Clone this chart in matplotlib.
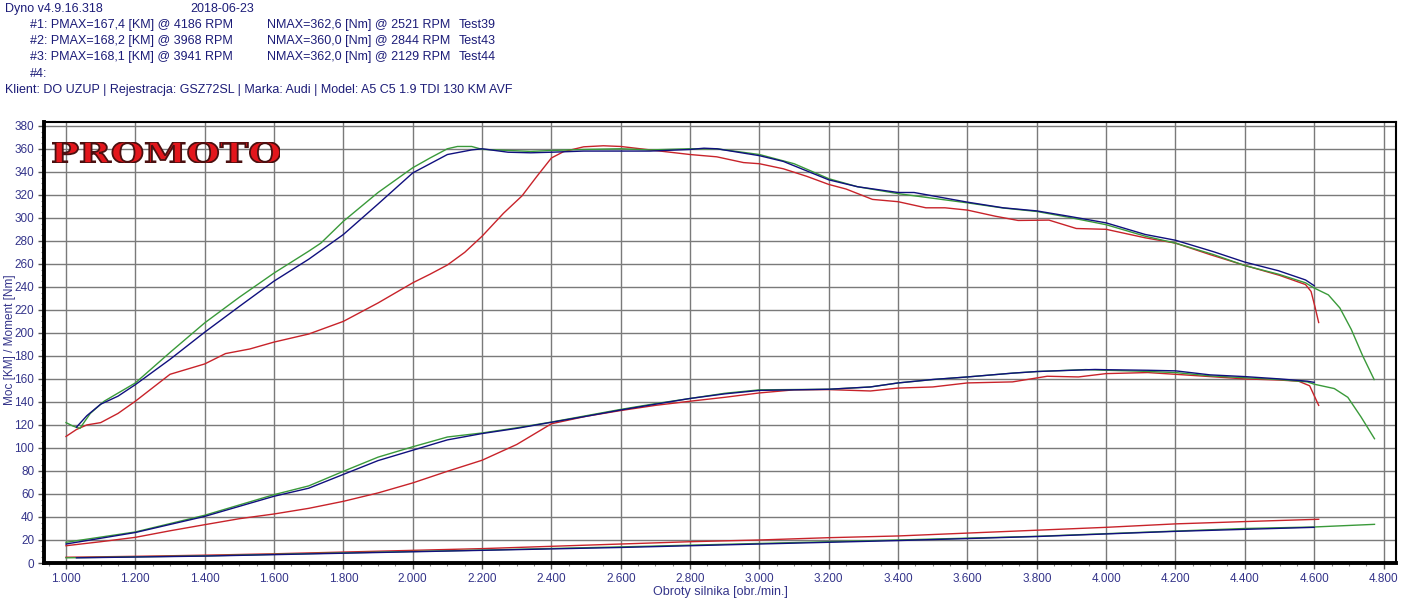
import matplotlib
matplotlib.use("Agg")
import matplotlib.pyplot as plt
from matplotlib.ticker import MultipleLocator, FuncFormatter
from matplotlib.textpath import TextPath
from matplotlib.patches import PathPatch
from matplotlib.font_manager import FontProperties

plt.rcParams['font.family'] = ['Liberation Sans', 'DejaVu Sans']

# ---------------- data ----------------
# Run #1 (Test39) - red
red_t_rpm = [1000, 1030, 1060, 1100, 1150, 1200, 1300, 1400, 1460, 1530, 1600, 1700, 1800, 1900, 2000,
             2050, 2100, 2150, 2200, 2262, 2315, 2358, 2400, 2435, 2493, 2550, 2600, 2685, 2800, 2877,
             2954, 3000, 3069, 3137, 3200, 3250, 3326, 3400, 3480, 3535, 3600, 3680, 3746, 3835, 3914,
             4000, 4113, 4200, 4300, 4400, 4500, 4575, 4591, 4602, 4613]
red_torque = [110, 116, 120, 122, 130, 140.6, 164, 173, 182, 186, 192, 199, 210, 226, 243.5,
              251, 259, 270, 284, 304, 319, 336, 352, 357.5, 361.7, 362.6, 362, 359, 355, 353,
              348, 347, 342.6, 336, 329, 325, 316, 314, 308.7, 308.7, 306.7, 301.4, 297.7, 298, 290.7,
              290, 282.6, 278, 268, 258.6, 250, 242, 236, 223, 209]
red_p_rpm = [1000, 1100, 1200, 1300, 1400, 1500, 1600, 1700, 1800, 1900, 2000, 2100, 2200, 2300, 2400,
             2500, 2600, 2700, 2800, 2900, 3000, 3100, 3200, 3320, 3400, 3500, 3600, 3730, 3830, 3920,
             4000, 4120, 4200, 4300, 4400, 4500, 4555, 4587, 4613]
red_power = [15, 18.5, 22.3, 28, 33.3, 38.5, 42.6, 47.5, 53.6, 60.9, 69.6, 79.7, 89.3, 103, 121,
             127.5, 132.5, 137, 140.6, 144, 147.8, 150.5, 150.7, 149.5, 152, 153, 156.5, 157.4, 162.3, 161.7,
             164.6, 165.5, 164, 162, 160, 159, 158, 154, 137]
red_l_rpm = [1000, 1200, 1400, 1600, 1800, 2000, 2200, 2400, 2600, 2800, 3000, 3200, 3400, 3600, 3800,
             4000, 4200, 4400, 4613]
red_loss = [5, 5.8, 6.8, 8, 9.5, 11, 12.5, 14.5, 16.5, 18.5, 20, 22, 23.5, 26, 28.5, 31, 34, 36, 38]

# Run #2 (Test43) - blue
blue_t_rpm = [1030, 1060, 1100, 1150, 1200, 1300, 1400, 1500, 1600, 1700, 1800, 1900, 2000, 2100, 2170,
              2200, 2275, 2340, 2400, 2493, 2600, 2685, 2800, 2840, 2877, 3000, 3069, 3200, 3283, 3400,
              3446, 3600, 3703, 3800, 3891, 4000, 4113, 4200, 4310, 4400, 4497, 4575, 4600]
blue_torque = [118, 128, 138, 145, 155, 177, 200.6, 223, 245, 264, 285.5, 312, 339, 355, 359,
               360, 357, 356.5, 357, 358, 358, 358, 359.4, 360.5, 360, 354, 349, 333, 327, 322,
               322, 313.6, 308.7, 306, 301.4, 295.6, 285.5, 280.5, 270.5, 261.5, 254, 246, 241]
blue_p_rpm = [1000, 1200, 1400, 1600, 1700, 1800, 1900, 2000, 2100, 2200, 2300, 2400, 2500, 2600, 2700,
              2800, 2900, 3000, 3200, 3320, 3400, 3500, 3600, 3730, 3800, 3968, 4000, 4120, 4200, 4300,
              4400, 4500, 4580, 4600]
blue_power = [16.5, 26.5, 40.5, 58, 65, 77, 89, 98, 107, 112.5, 117, 122.3, 127.5, 133, 138,
              143, 147, 150, 151, 153, 156.5, 159.5, 161.7, 165, 166.4, 168.2, 168, 167.5, 167, 163.5,
              162, 160, 158, 157]
blue_l_rpm = [1030, 1400, 1800, 2200, 2600, 3000, 3400, 3800, 4200, 4600]
blue_loss = [4.5, 6, 8.5, 11, 13.5, 16.5, 19.5, 23, 27.5, 31]

# Run #3 (Test44) - green
green_t_rpm = [1000, 1020, 1040, 1070, 1110, 1200, 1300, 1400, 1500, 1600, 1700, 1735, 1800, 1900, 2000,
               2050, 2100, 2129, 2170, 2200, 2340, 2400, 2493, 2600, 2685, 2800, 2877, 3000, 3100, 3200,
               3283, 3400, 3600, 3703, 3800, 3891, 4000, 4113, 4200, 4310, 4400, 4497, 4575, 4600, 4641,
               4674, 4707, 4740, 4773]
green_torque = [122, 119, 117, 130, 140.6, 156.5, 183, 208.7, 231, 252, 271, 278, 297, 322, 343.5,
                352, 360, 362, 362, 359.5, 357.7, 358.5, 359.4, 360, 359, 360, 360, 355, 347, 334,
                327, 321, 313, 308.5, 305.5, 300.5, 294, 284, 278, 268, 258.5, 251, 243.5, 239, 233,
                221.7, 203, 180, 159.4]
green_p_rpm = [1000, 1200, 1400, 1600, 1700, 1800, 1900, 2000, 2100, 2200, 2300, 2400, 2500, 2600, 2700,
               2800, 2900, 3000, 3200, 3320, 3400, 3500, 3600, 3730, 3800, 3941, 4000, 4120, 4200, 4300,
               4400, 4500, 4580, 4600, 4658, 4697, 4735, 4774]
green_power = [18, 27, 41.5, 59.4, 67, 79.7, 92, 101, 109.5, 113, 117.5, 122.5, 128, 133.5, 138.5,
               143, 147.5, 150.5, 151, 153, 156.5, 159.4, 161.7, 165, 166.4, 168.1, 167.5, 166.5, 165.5, 162.6,
               161, 159.4, 157.4, 155.4, 151.6, 144, 127, 108]
green_l_rpm = [1000, 1400, 1800, 2200, 2600, 3000, 3400, 3800, 4000, 4400, 4600, 4774]
green_loss = [4.5, 6.2, 8.8, 11.2, 14, 17, 20, 23.2, 25.5, 30, 31.3, 33.6]

x_ticks = list(range(1000, 4801, 200))
y_ticks = list(range(0, 381, 20))

header_lines = [
    "#1: PMAX=167,4 [KM] @ 4186 RPM",
    "#2: PMAX=168,2 [KM] @ 3968 RPM",
    "#3: PMAX=168,1 [KM] @ 3941 RPM",
    "#4:",
]
nmax_lines = [
    "NMAX=362,6 [Nm] @ 2521 RPM",
    "NMAX=360,0 [Nm] @ 2844 RPM",
    "NMAX=362,0 [Nm] @ 2129 RPM",
]
test_names = ["Test39", "Test43", "Test44"]

# ---------------- figure ----------------
W, H = 1424, 612
fig = plt.figure(figsize=(W / 100, H / 100), dpi=100)
fig.patch.set_facecolor("white")

def fx(px):
    return px / W

def fy(py):
    return 1 - py / H

ax = fig.add_axes([fx(44), fy(563), fx(1396) - fx(44), fy(121.5) - fy(563)])

RED = "#c8232a"
BLUE = "#10107e"
GREEN = "#3a9a3a"
lw = 1.0

ax.plot(red_t_rpm, red_torque, color=RED, lw=lw, zorder=3)
ax.plot(red_p_rpm, red_power, color=RED, lw=lw, zorder=3)
ax.plot(red_l_rpm, red_loss, color=RED, lw=lw, zorder=3)
ax.plot(green_t_rpm, green_torque, color=GREEN, lw=lw, zorder=4)
ax.plot(green_p_rpm, green_power, color=GREEN, lw=lw, zorder=4)
ax.plot(green_l_rpm, green_loss, color=GREEN, lw=lw, zorder=4)
ax.plot(blue_t_rpm, blue_torque, color=BLUE, lw=lw, zorder=5)
ax.plot(blue_p_rpm, blue_power, color=BLUE, lw=lw, zorder=5)
ax.plot(blue_l_rpm, blue_loss, color=BLUE, lw=lw, zorder=5)

ax.set_xlim(936.5, 4836)
ax.set_ylim(0, 383.7)
ax.set_xticks(x_ticks)
ax.set_yticks(y_ticks)
ax.xaxis.set_major_formatter(FuncFormatter(lambda v, p: f"{int(v) // 1000}.{int(v) % 1000:03d}"))
ax.xaxis.set_minor_locator(MultipleLocator(50))
ax.yaxis.set_minor_locator(MultipleLocator(5))

TICKC = "#34348a"
ax.tick_params(axis="both", which="major", labelsize=8.5, labelcolor=TICKC, color="#555555",
               length=4, width=1, direction="out", pad=3)
ax.tick_params(axis="both", which="minor", color="#888888", length=2, width=0.8, direction="out")
ax.grid(True, which="major", color="#7a7a7a", lw=1.0, zorder=1)
ax.set_axisbelow(True)

for side in ["left", "bottom"]:
    ax.spines[side].set_linewidth(2.8)
for side in ["top", "right"]:
    ax.spines[side].set_linewidth(1.5)
for s in ax.spines.values():
    s.set_color("black")

ax.set_xlabel("Obroty silnika [obr./min.]", fontsize=9, color=TICKC, labelpad=1)
fig.text(fx(10), fy(340), "Moc [KM] / Moment [Nm]", fontsize=8.5, color=TICKC,
         rotation=90, ha="center", va="center")

# ---------------- header ----------------
HC = "#1c1c78"
hfs = 9
fig.text(fx(5), fy(9), "Dyno v4.9.16.318", fontsize=hfs, color=HC, va="center")
fig.text(fx(190), fy(9), "2018-06-23", fontsize=hfs, color=HC, va="center")
for i, line in enumerate(header_lines):
    y = 25 + i * 16.2
    fig.text(fx(30), fy(y), line, fontsize=hfs, color=HC, va="center")
    if i < len(nmax_lines):
        fig.text(fx(267), fy(y), nmax_lines[i], fontsize=hfs, color=HC, va="center")
        fig.text(fx(459), fy(y), test_names[i], fontsize=hfs, color=HC, va="center")
fig.text(fx(5), fy(90), "Klient: DO UZUP | Rejestracja: GSZ72SL | Marka: Audi | Model: A5 C5 1.9 TDI 130 KM AVF",
         fontsize=hfs, color=HC, va="center")

# ---------------- logo ----------------
lax = fig.add_axes([fx(52), fy(163.5), fx(280) - fx(52), fy(141.5) - fy(163.5)])
lax.set_axis_off()
lax.patch.set_alpha(0)
tp = TextPath((0, 0), "PROMOTO", size=10, prop=FontProperties(family="DejaVu Serif", weight="bold"))
bb = tp.get_extents()
lax.add_patch(PathPatch(tp, fc="#e3161c", ec="#4a1010", lw=1.3))
lax.set_xlim(bb.x0, bb.x1)
lax.set_ylim(bb.y0, bb.y1)

fig.savefig("out.png", dpi=100, facecolor="white")
